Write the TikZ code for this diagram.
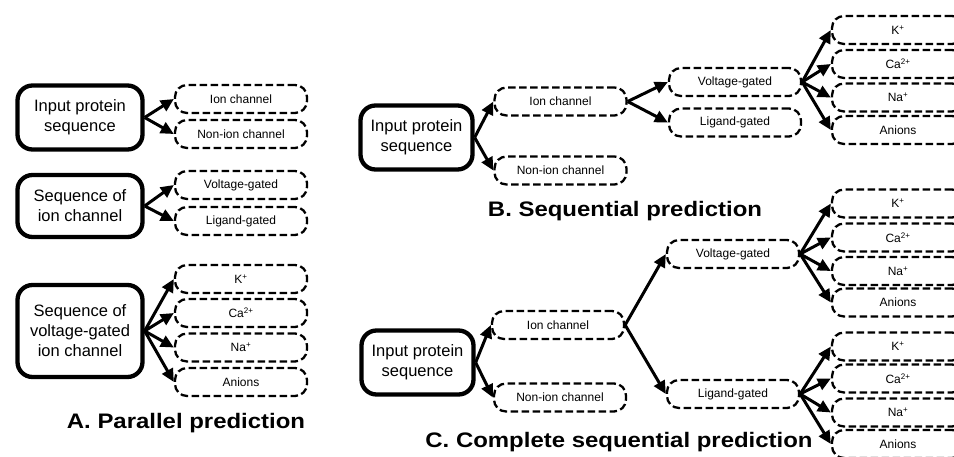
\documentclass[tikz,border=0pt]{standalone}
\usepackage{fontspec}
\setsansfont{Liberation Sans}
\newfontfamily\headfont[FakeStretch=1.14]{Liberation Sans}
\usepackage{tikz}
\usetikzlibrary{arrows.meta, positioning}

\begin{document}
\begin{tikzpicture}[
    x=1pt, y=-1pt,
    every node/.style={font=\sffamily},
    seqbox/.style={draw, line width=4.3pt, rounded corners=15pt, minimum height=64pt, inner sep=2pt, align=center, font=\sffamily\fontsize{16.5}{20}\selectfont},
    classbox/.style={draw, line width=2.3pt, dash pattern=on 7.5pt off 3.5pt, rounded corners=12pt, minimum width=132pt, minimum height=28pt, inner sep=0pt, font=\sffamily\fontsize{12}{14}\selectfont},
    heading/.style={anchor=base, font=\headfont\bfseries\fontsize{21}{24}\selectfont},
    link/.style={line width=3pt, -{Triangle[length=13pt, width=12pt]}}
]
    \useasboundingbox (0,0) rectangle (954,457);

    % A: one classifier per level
    \node[seqbox, minimum width=125pt] (inA) at (80,117.5) {Input protein\\sequence};
    \node[classbox] (ionA) at (241,99) {Ion channel};
    \node[classbox] (nonA) at (241,134) {Non-ion channel};

    \node[seqbox, minimum width=125pt, minimum height=62pt] (chA) at (80,206) {Sequence of\\ion channel};
    \node[classbox] (voltA) at (241,185) {Voltage-gated};
    \node[classbox] (ligA) at (241,221) {Ligand-gated};

    \node[seqbox, minimum width=125pt, minimum height=92pt] (vgA) at (80,331) {Sequence of\\voltage-gated\\ion channel};
    \node[classbox] (kA) at (241,279) {K\textsuperscript{+}};
    \node[classbox] (caA) at (241,313) {Ca\textsuperscript{2+}};
    \node[classbox] (naA) at (241,347.5) {Na\textsuperscript{+}};
    \node[classbox] (anA) at (241,382) {Anions};

    \draw[link] (inA.east) -- (ionA.west);
    \draw[link] (inA.east) -- (nonA.west);
    \draw[link] (chA.east) -- (voltA.west);
    \draw[link] (chA.east) -- (ligA.west);
    \draw[link] (vgA.east) -- (kA.west);
    \draw[link] (vgA.east) -- (caA.west);
    \draw[link] (vgA.east) -- (naA.west);
    \draw[link] (vgA.east) -- (anA.west);

    \node[heading] (titleA) at (186,428) {A. Parallel prediction};

    % B: cascade, ion type only below voltage-gated
    \node[seqbox, minimum width=112pt] (inB) at (416.5,137.5) {Input protein\\sequence};
    \node[classbox] (ionB) at (560.5,101.5) {Ion channel};
    \node[classbox] (nonB) at (560.5,170.5) {Non-ion channel};
    \node[classbox] (voltB) at (735,82) {Voltage-gated};
    \node[classbox] (ligB) at (735,122.5) {Ligand-gated};
    \node[classbox] (kB) at (898,30) {K\textsuperscript{+}};
    \node[classbox] (caB) at (898,64) {Ca\textsuperscript{2+}};
    \node[classbox] (naB) at (898,97.5) {Na\textsuperscript{+}};
    \node[classbox] (anB) at (898,130) {Anions};

    \draw[link] (inB.east) -- (ionB.west);
    \draw[link] (inB.east) -- (nonB.west);
    \draw[link] (ionB.east) -- (voltB.west);
    \draw[link] (ionB.east) -- (ligB.west);
    \draw[link] (voltB.east) -- (kB.west);
    \draw[link] (voltB.east) -- (caB.west);
    \draw[link] (voltB.east) -- (naB.west);
    \draw[link] (voltB.east) -- (anB.west);

    \node[heading] (titleB) at (625,217) {B. Sequential prediction};

    % C: full cascade, ion type below both gating classes
    \node[seqbox, minimum width=112pt] (inC) at (417.5,362.5) {Input protein\\sequence};
    \node[classbox] (ionC) at (558,325) {Ion channel};
    \node[classbox] (nonC) at (560,397.5) {Non-ion channel};
    \node[classbox] (voltC) at (733,254) {Voltage-gated};
    \node[classbox] (ligC) at (733,394) {Ligand-gated};
    \node[classbox] (kC) at (898,203.5) {K\textsuperscript{+}};
    \node[classbox] (caC) at (898,237.5) {Ca\textsuperscript{2+}};
    \node[classbox] (naC) at (898,271) {Na\textsuperscript{+}};
    \node[classbox] (anC) at (898,302.5) {Anions};
    \node[classbox] (kL) at (898,346.5) {K\textsuperscript{+}};
    \node[classbox] (caL) at (898,378.5) {Ca\textsuperscript{2+}};
    \node[classbox] (naL) at (898,412.5) {Na\textsuperscript{+}};
    \node[classbox] (anL) at (898,444) {Anions};

    \draw[link] (inC.east) -- (ionC.west);
    \draw[link] (inC.east) -- (nonC.west);
    \draw[link] (ionC.east) -- (voltC.west);
    \draw[link] (ionC.east) -- (ligC.west);
    \draw[link] (voltC.east) -- (kC.west);
    \draw[link] (voltC.east) -- (caC.west);
    \draw[link] (voltC.east) -- (naC.west);
    \draw[link] (voltC.east) -- (anC.west);
    \draw[link] (ligC.east) -- (kL.west);
    \draw[link] (ligC.east) -- (caL.west);
    \draw[link] (ligC.east) -- (naL.west);
    \draw[link] (ligC.east) -- (anL.west);

    \node[heading] (titleC) at (619,447) {C. Complete sequential prediction};

\end{tikzpicture}
\end{document}
